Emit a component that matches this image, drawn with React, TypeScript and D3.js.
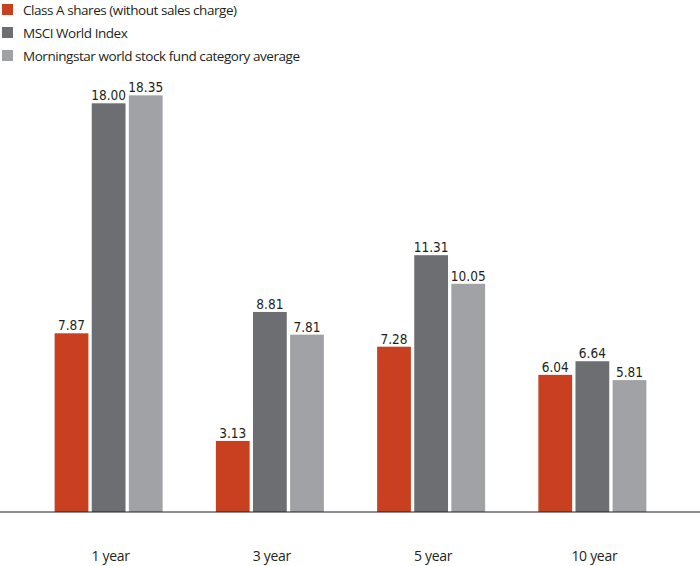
import React from "react";
import * as d3 from "d3";

const categories = ["1 year", "3 year", "5 year", "10 year"];
const seriesNames = [
  "Class A shares (without sales charge)",
  "MSCI World Index",
  "Morningstar world stock fund category average",
];
const classA = [7.87, 3.13, 7.28, 6.04];
const msci = [18.0, 8.81, 11.31, 6.64];
const morningstar = [18.35, 7.81, 10.05, 5.81];
const colors = ["#C8401F", "#6D6E71", "#A1A2A5"];

const W = 700;
const H = 566;

export default function App() {
  const series = [classA, msci, morningstar];
  const baseY = 512;
  const x0 = d3.scaleBand<string>().domain(categories).range([28, 673]).padding(0);
  const groupW = 108;
  const x1 = d3
    .scaleBand<number>()
    .domain([0, 1, 2])
    .range([0, groupW])
    .paddingInner(0.09);
  const y = d3.scaleLinear().domain([0, 18]).range([baseY, 103.3]);
  const labelFont = "'DejaVu Sans Condensed', 'DejaVu Sans', sans-serif";
  const textFont = "'Open Sans', sans-serif";

  return (
    <svg
      width={W}
      height={H}
      style={{ position: "absolute", left: 0, top: 0, background: "#fff" }}
    >
      <g>
        {seriesNames.map((name, i) => (
          <g key={name} transform={`translate(2, ${4 + i * 23})`}>
            <rect width={11} height={11} fill={colors[i]} />
            <text
              x={21}
              y={10.5}
              fontFamily={textFont}
              fontSize={13.5}
              fill="#231F20"
              letterSpacing={-0.45}
            >
              {name}
            </text>
          </g>
        ))}
      </g>
      {categories.map((c, ci) => {
        const gx = (x0(c) as number) + x0.bandwidth() / 2 - groupW / 2;
        return (
          <g key={c} transform={`translate(${gx},0)`}>
            {series.map((s, si) => {
              const v = s[ci];
              const bx = x1(si) as number;
              const bw = x1.bandwidth();
              return (
                <g key={si}>
                  <rect x={bx} y={y(v)} width={bw} height={baseY - y(v)} fill={colors[si]} />
                  <text
                    x={bx + bw / 2}
                    y={y(v) - 3}
                    textAnchor="middle"
                    fontFamily={labelFont}
                    fontSize={13.5}
                    fill="#231F20"
                  >
                    {v.toFixed(2)}
                  </text>
                </g>
              );
            })}
          </g>
        );
      })}
      <line x1={0} x2={W} y1={baseY} y2={baseY} stroke="#231F20" strokeWidth={1.2} />
      {categories.map((c) => (
        <text
          key={c}
          x={(x0(c) as number) + x0.bandwidth() / 2 + 2}
          y={561}
          textAnchor="middle"
          fontFamily={textFont}
          fontSize={14}
          fill="#231F20"
          letterSpacing={-0.3}
        >
          {c}
        </text>
      ))}
    </svg>
  );
}
